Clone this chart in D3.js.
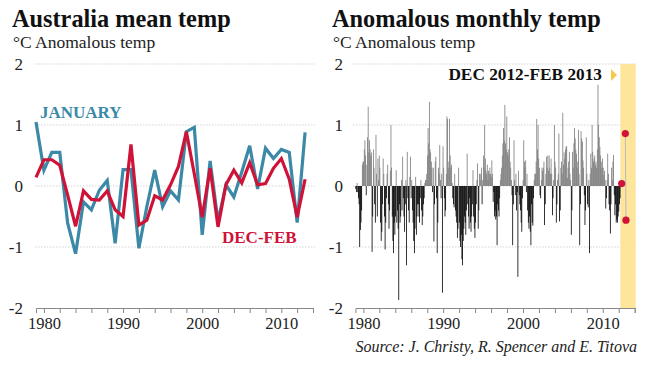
<!DOCTYPE html>
<html><head><meta charset="utf-8">
<script src="https://cdn.jsdelivr.net/npm/d3@7"></script>
<style>
body{margin:0;background:#fff}
svg{display:block}
text{font-family:"Liberation Serif","Times New Roman",serif}
</style>
</head><body>
<svg id="c" width="650" height="366"></svg>
<script>
// ---------- DATA ----------
const years = d3.range(1979, 2014);
const january = [1.05,0.26,0.55,0.55,-0.61,-1.11,-0.26,-0.39,-0.07,0.09,-0.94,0.27,0.27,-1.02,-0.34,0.26,-0.34,-0.08,-0.23,0.89,0.96,-0.80,0.41,-0.58,0.02,-0.18,0.23,0.66,-0.05,0.62,0.45,0.60,0.55,-0.60,0.88];
const decFeb  = [0.14,0.43,0.43,0.34,-0.15,-0.66,-0.08,-0.22,-0.23,-0.08,-0.39,-0.50,0.68,-0.64,-0.56,-0.16,-0.23,0.02,0.32,0.89,0.20,-0.51,0.29,-0.67,0.02,0.26,0.05,0.38,0.02,0.04,0.29,0.45,0.11,-0.51,0.11];

const monthlyStart = 1979;
const monthlyAnom = [
  -0.05,-0.1,0.05,-0.1,-0.2,-0.3,-1.0,-0.72,-0.6,-0.4,0.35,0.4,      // 1979
  0.4,0.6,0.75,0.5,-0.15,0.35,0.8,1.3,0.55,0.75,0.6,0.5,             // 1980
  0.55,-1.08,-0.5,0.6,0.3,-0.3,-0.6,0.84,0.2,-0.5,0.45,0.1,          // 1981
  0.5,0.3,-0.6,-0.9,-0.75,-0.3,0.45,0.2,-0.5,-1.04,-0.6,-0.2,        // 1982
  0.2,0.35,-0.3,-0.7,-0.4,0.25,1.0,0.3,-0.5,-0.9,-1.1,-0.6,          // 1983
  -0.8,-0.5,0.26,-0.6,-0.4,-0.7,-1.87,-0.3,-0.6,-0.5,0.1,-0.4,       // 1984
  0.48,-0.2,-0.5,-0.75,-0.3,0.1,-1.3,0.56,-0.2,-0.4,-0.6,0.15,       // 1985
  0.48,-0.2,0.1,-0.4,-0.6,-0.9,-1.1,-0.7,0.15,-0.8,-0.5,-0.3,        // 1986
  -0.3,-0.5,-0.6,-0.2,0.1,-0.4,-0.64,-0.5,-0.3,-0.2,0.05,0.1,        // 1987
  0.1,0.2,0.5,0.95,0.7,1.38,0.6,0.55,0.4,0.3,-0.1,0.3,               // 1988
  -0.91,-0.3,0.4,0.48,-0.2,-1.1,-0.6,0.3,0.2,0.67,0.1,-0.2,          // 1989
  0.2,-1.75,0.65,0.3,-0.2,-0.5,-0.4,0.2,1.14,1.1,0.3,0.4,            // 1990
  1.1,0.5,0.3,0.35,0.05,-0.2,-0.3,-0.35,0.2,-0.4,-0.5,-0.6,          // 1991
  -0.85,-0.7,0.3,-0.6,-0.9,-1.0,-0.8,-1.2,-1.3,-0.9,-0.7,-0.5,       // 1992
  -0.6,-0.8,-0.4,0.53,-0.3,-0.5,-0.7,-0.2,-0.6,-0.75,-0.5,-0.3,      // 1993
  0.26,-0.5,-0.7,-0.85,-0.6,-0.3,0.1,0.37,-0.7,-0.4,0.2,0.1,         // 1994
  0.2,0.3,-0.3,0.1,0.5,0.3,1.0,0.45,0.25,0.2,0.35,0.1,               // 1995
  0.25,0.2,0.3,0.2,0.15,0.42,0.2,-0.26,-0.1,-0.5,-0.4,-0.55,         // 1996
  -0.5,-0.97,-0.3,-0.4,-0.5,-0.2,0.1,0.2,0.3,0.5,0.7,0.95,           // 1997
  0.75,1.33,0.7,0.6,1.14,0.55,0.5,0.6,0.8,0.4,0.3,0.1,               // 1998
  -0.15,-0.97,-0.3,0.75,0.1,-0.15,0.2,-0.4,-0.1,-1.49,0.25,-0.15,    // 1999
  -0.3,-0.4,-0.6,-0.75,-0.2,0.1,0.75,0.4,0.3,0.42,-0.1,0.2,          // 2000
  -0.4,-0.6,-0.7,-0.5,-0.75,-0.97,-0.3,-0.6,-0.65,-0.2,0.1,0.2,      // 2001
  0.2,0.4,1.1,0.6,1.0,0.45,0.3,-0.15,-0.2,0.1,0.3,0.25,              // 2002
  0.3,0.4,-0.64,-0.3,0.2,0.48,0.3,0.5,0.25,0.5,0.3,0.2,              // 2003
  0.45,0.2,-0.48,-0.2,0.1,1.0,0.4,0.3,-0.6,-0.3,0.1,0.2,             // 2004
  0.86,-0.58,-0.4,0.3,0.4,0.2,1.2,0.35,0.55,0.45,0.6,0.65,           // 2005
  0.65,0.13,0.3,0.4,0.56,0.2,0.1,-0.8,-0.4,0.56,0.3,0.7,             // 2006
  0.95,0.78,0.6,0.53,0.3,0.4,0.92,0.2,-0.97,-0.3,0.9,0.78,           // 2007
  0.73,0.42,0.3,-0.15,-0.64,-0.4,0.8,0.2,-0.3,-0.35,0.1,-1.1,        // 2008
  0.2,0.53,0.3,1.0,0.56,0.4,0.45,0.5,0.35,0.4,0.3,0.6,               // 2009
  1.66,1.0,0.8,0.64,0.5,0.4,0.3,0.45,0.3,0.18,0.25,0.1,              // 2010
  -0.37,-0.2,0.1,0.53,0.2,-0.3,-0.4,-0.78,-0.3,0.3,0.1,0.4,          // 2011
  0.51,-0.15,-0.48,-0.3,-0.6,-0.55,-0.6,-0.5,-0.42,-0.3,-0.2,0.04,   // 2012
  0.86,-0.56                                                         // 2013
];
const highlightCount = 3;              // Dec 2012 - Feb 2013
const bandStartYear = 2012.95;
const bandEndYear = 2014;
const yTicks = [2,1,0,-1,-2];
const xTicks = d3.range(1980, 2015, 2);
const xTickLabels = [1980,1990,2000,2010];

// ---------- STYLE ----------
const BLUE = "#3b89a6", RED = "#cf1237";
const svg = d3.select("#c");

const y = d3.scaleLinear().domain([-2,2]).range([308,64]);
const xL = d3.scaleLinear().domain([1979,2014]).range([36,313]);
const xR = d3.scaleLinear().domain([1979,2014]).range([355.4,634.7]);
const xBar = d3.scaleLinear().domain([1979,2013]).range([355.4,621]);

// titles
function titles(x, title) {
  svg.append("text").attr("x", x).attr("y", 27).attr("font-size", 24.3).attr("font-weight", "bold").attr("fill", "#111").text(title);
  svg.append("text").attr("x", x + 1).attr("y", 48).attr("font-size", 17.5).attr("fill", "#222").text("°C Anomalous temp");
}
titles(12, "Australia mean temp");
titles(332, "Anomalous monthly temp");

// gridlines & y labels
function yAxis(x0, x1, labelX) {
  const g = svg.append("g");
  g.selectAll("line").data(yTicks.filter(d => d > -2)).join("line")
    .attr("x1", x0).attr("x2", x1).attr("y1", d => y(d)).attr("y2", d => y(d))
    .attr("stroke", "#c8c8c8").attr("stroke-width", 0.8).attr("stroke-dasharray", "1.5,1.5");
  g.selectAll("text").data(yTicks).join("text")
    .attr("x", labelX).attr("y", d => y(d)).attr("dy", "0.35em")
    .attr("text-anchor", "end").attr("font-size", 17).attr("fill", "#222").text(d => d);
}
yAxis(35, 315, 23);
yAxis(353, 636, 343);

// x axes
function xAxis(scale) {
  const ax = d3.axisBottom(scale).tickValues(xTicks).tickSize(5).tickPadding(4)
    .tickFormat(d => xTickLabels.includes(d) ? d : "");
  const g = svg.append("g").attr("transform", `translate(0,${y(-2)})`).call(ax);
  g.select(".domain").attr("stroke", "#888").attr("stroke-width", 1);
  g.selectAll(".tick line").attr("stroke", "#888");
  g.selectAll(".tick text").attr("font-size", 16.5).attr("fill", "#222")
    .attr("font-family", "'Liberation Serif',serif");
  return g;
}

// ---------- LEFT CHART ----------
const line = (vals) => d3.line().x((d, i) => xL(years[i])).y(d => y(d))(vals);
svg.append("path").attr("d", line(january)).attr("fill", "none")
  .attr("stroke", BLUE).attr("stroke-width", 3.2).attr("stroke-linejoin", "miter");
svg.append("path").attr("d", line(decFeb)).attr("fill", "none")
  .attr("stroke", RED).attr("stroke-width", 3.2).attr("stroke-linejoin", "miter");
svg.append("text").attr("x", 40).attr("y", 118).attr("font-size", 17).attr("font-weight", "bold")
  .attr("fill", BLUE).text("JANUARY");
svg.append("text").attr("x", 222).attr("y", 243).attr("font-size", 17).attr("font-weight", "bold")
  .attr("fill", RED).text("DEC-FEB");
xAxis(xL);

// ---------- RIGHT CHART ----------
// highlight band
svg.append("rect").attr("x", xR(bandStartYear) - 6).attr("y", y(2))
  .attr("width", xR(bandEndYear) - xR(bandStartYear) + 7).attr("height", y(-2) - y(2))
  .attr("fill", "#fde59b");

const bw = xBar(1979 + 1/12) - xBar(1979);
const mainMonths = monthlyAnom.slice(0, monthlyAnom.length - highlightCount);
svg.append("g").selectAll("rect").data(mainMonths).join("rect")
  .attr("x", (d, i) => xBar(monthlyStart + i/12))
  .attr("width", bw + 0.15)
  .attr("y", d => y(Math.max(0, d)))
  .attr("height", d => Math.abs(y(d) - y(0)))
  .attr("fill", d => d >= 0 ? "#7a7a7a" : "#000");

// highlighted months
const hi = monthlyAnom.slice(-highlightCount).map((v, k) => ({v, i: monthlyAnom.length - highlightCount + k}));
const hx = d => xBar(monthlyStart + d.i/12) + bw/2 + (d.i === monthlyAnom.length - highlightCount ? 1 : 4);
svg.append("line").attr("x1", hx(hi[1])).attr("x2", hx(hi[2]))
  .attr("y1", y(d3.max(hi, d => d.v))).attr("y2", y(d3.min(hi, d => d.v)))
  .attr("stroke", "#bbb").attr("stroke-width", 1);
svg.append("g").selectAll("circle").data(hi).join("circle")
  .attr("cx", hx).attr("cy", d => y(d.v)).attr("r", 3.6).attr("fill", RED);

xAxis(xR);

// annotation
svg.append("text").attr("x", 602).attr("y", 80).attr("text-anchor", "end")
  .attr("font-size", 17.3).attr("font-weight", "bold").attr("fill", "#111").text("DEC 2012-FEB 2013");
svg.append("path").attr("d", `M611,69 L617,75 L611,81 Z`).attr("fill", "#f5c94c");

// source
svg.append("text").attr("x", 637).attr("y", 352).attr("text-anchor", "end")
  .attr("font-size", 16).attr("font-style", "italic").attr("fill", "#222")
  .text("Source: J. Christy, R. Spencer and E. Titova");
</script>
</body></html>
